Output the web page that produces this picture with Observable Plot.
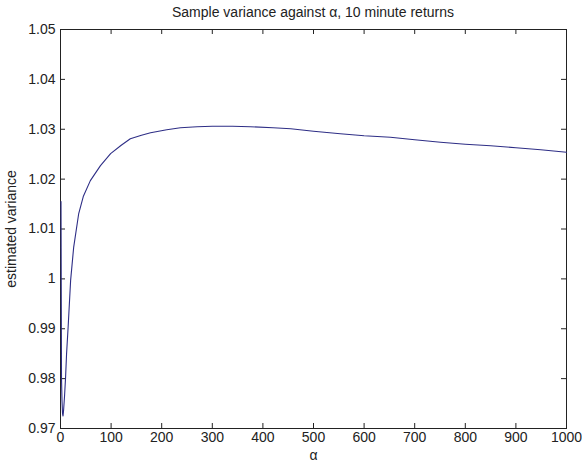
<!DOCTYPE html>
<html>
<head>
<meta charset="utf-8">
<script src="https://cdn.jsdelivr.net/npm/d3@7"></script>
<script src="https://cdn.jsdelivr.net/npm/@observablehq/plot@0.6"></script>
<style>
  html, body { margin: 0; padding: 0; background: #fff; }
  #title { width: 582px; height: 20px; font: 14px "Liberation Sans", Arial, sans-serif; color: #222; text-align: center; padding-left: 44px; box-sizing: border-box; line-height: 24px; }
  #chart svg { display: block; }
</style>
</head>
<body>
<div id="title">Sample variance against α, 10 minute returns</div>
<div id="chart"></div>
<script>
// α values and estimated sample variance
const alpha = [1, 2, 3, 4, 5, 6, 8, 10, 12, 15, 20, 26, 36, 45, 59, 79, 99, 120, 138, 160, 178, 210, 237, 270, 300, 340, 375, 420, 455, 500, 553, 600, 652, 700, 751, 800, 850, 900, 949, 1000];
const variance = [1.0155, 0.980, 0.9755, 0.9730, 0.9725, 0.9735, 0.9765, 0.9802, 0.9850, 0.9902, 0.9997, 1.0063, 1.0131, 1.0165, 1.0197, 1.0227, 1.0251, 1.0268, 1.0281, 1.0288, 1.0293, 1.0299, 1.0303, 1.0305, 1.0306, 1.0306, 1.0305, 1.0303, 1.0301, 1.0296, 1.0291, 1.0287, 1.0284, 1.0279, 1.0274, 1.0270, 1.0267, 1.0263, 1.0259, 1.0254];
const xTicks = [0, 100, 200, 300, 400, 500, 600, 700, 800, 900, 1000];
const yTicks = [0.97, 0.98, 0.99, 1.00, 1.01, 1.02, 1.03, 1.04, 1.05];

const data = alpha.map((a, i) => ({alpha: a, v: variance[i]}));
const fmtY = d => String(+d.toFixed(2));
const fmtX = d => String(d);

const W = 582, H = 444, mL = 60, mR = 16, mT = 9, mB = 36;
const innerW = W - mL - mR, innerH = H - mT - mB, tick = 5;
const tickStyle = {stroke: "#222", strokeWidth: 1};

const chart = Plot.plot({
  width: W,
  height: H,
  marginLeft: mL,
  marginRight: mR,
  marginTop: mT,
  marginBottom: mB,
  style: {fontFamily: "'Liberation Sans', Arial, sans-serif", fontSize: "14px", color: "#222", background: "#fff"},
  x: {domain: [0, 1000]},
  y: {domain: [0.97, 1.05]},
  marks: [
    Plot.frame({stroke: "#222"}),
    Plot.axisX(xTicks, {anchor: "bottom", tickSize: 0, tickPadding: 4, tickFormat: fmtX, fontSize: 14, label: "α", labelAnchor: "center", labelArrow: "none", labelOffset: 31}),
    Plot.axisY(yTicks, {anchor: "left", tickSize: 0, tickPadding: 5, tickFormat: fmtY, fontSize: 14, label: "estimated variance", labelAnchor: "center", labelArrow: "none", labelOffset: 54}),
    // inward ticks on all four sides
    Plot.ruleX(xTicks, {x: d => d, insetTop: innerH - tick, ...tickStyle}),
    Plot.ruleX(xTicks, {x: d => d, insetBottom: innerH - tick, ...tickStyle}),
    Plot.ruleY(yTicks, {y: d => d, insetRight: innerW - tick, ...tickStyle}),
    Plot.ruleY(yTicks, {y: d => d, insetLeft: innerW - tick, ...tickStyle}),
    Plot.line(data, {x: "alpha", y: "v", stroke: "#2e2e86", strokeWidth: 1.1})
  ]
});
document.getElementById("chart").appendChild(chart);
</script>
</body>
</html>
